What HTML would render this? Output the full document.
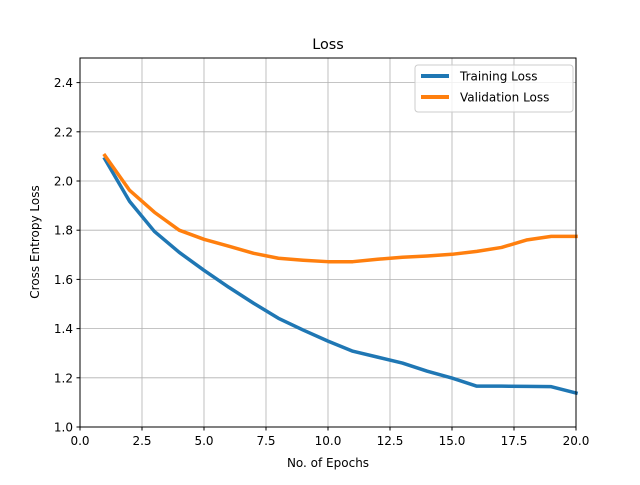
<!DOCTYPE html>
<html><head><meta charset="utf-8"><style>
body{margin:0;background:#fff;}
svg text{font-family:"DejaVu Sans","Liberation Sans",sans-serif;}
</style></head><body>
<svg id="chart" width="640" height="480" xmlns="http://www.w3.org/2000/svg">
<rect width="640" height="480" fill="#fff"/>
<g id="grid"></g>
<g id="series"></g>
<rect x="80" y="58" width="496" height="369" fill="none" stroke="#000" stroke-width="1"/>
<g id="ticks"></g>
<text x="328" y="49" font-size="14.4" text-anchor="middle">Loss</text>
<text x="328" y="467" font-size="12" text-anchor="middle">No. of Epochs</text>
<text transform="translate(39,242) rotate(-90)" font-size="12" text-anchor="middle">Cross Entropy Loss</text>
<g>
<rect x="415" y="65" width="158" height="47" rx="3" fill="#fff" fill-opacity="0.8" stroke="#ccc"/>
<g>
<line x1="421" y1="76" x2="449" y2="76" stroke="#1f77b4" stroke-width="4"/>
<text x="460" y="80.5" font-size="12">Training Loss</text></g>
<g>
<line x1="421" y1="97" x2="449" y2="97" stroke="#ff7f0e" stroke-width="4"/>
<text x="460" y="101.5" font-size="12">Validation Loss</text></g>
</g>
</svg>
<script>
const epochs=[1,2,3,4,5,6,7,8,9,10,11,12,13,14,15,16,17,18,19,20];
const trainingLoss=[2.09,1.917,1.795,1.71,1.637,1.568,1.503,1.442,1.394,1.349,1.308,1.284,1.26,1.227,1.199,1.166,1.166,1.165,1.164,1.138];
const validationLoss=[2.104,1.962,1.873,1.80,1.763,1.735,1.706,1.686,1.678,1.672,1.672,1.682,1.69,1.695,1.702,1.714,1.73,1.76,1.775,1.775];
const xTicks=[0,2.5,5,7.5,10,12.5,15,17.5,20];
const xTickLabels=["0.0","2.5","5.0","7.5","10.0","12.5","15.0","17.5","20.0"];
const yTicks=[1.0,1.2,1.4,1.6,1.8,2.0,2.2,2.4];
const yTickLabels=["1.0","1.2","1.4","1.6","1.8","2.0","2.2","2.4"];
const NS="http://www.w3.org/2000/svg";
const X=v=>80+(v-0)/20*496;
const Y=v=>427-(v-1.0)/1.5*369;
function mk(t,a,p){const e=document.createElementNS(NS,t);for(const k in a)e.setAttribute(k,a[k]);p.appendChild(e);return e;}
const grid=document.getElementById('grid'),ticks=document.getElementById('ticks'),series=document.getElementById('series');
xTicks.forEach((t,i)=>{
 const g=mk('line',{x1:X(t),x2:X(t),y1:58,y2:427,stroke:'#b0b0b0','stroke-width':0.8},grid);
 
 
 mk('line',{x1:X(t),x2:X(t),y1:427,y2:430.5,stroke:'#000'},ticks);
 const tx=mk('text',{x:X(t),y:445,'font-size':12,'text-anchor':'middle'},ticks);
 tx.textContent=xTickLabels[i];
 
 
});
yTicks.forEach((t,i)=>{
 const g=mk('line',{x1:80,x2:576,y1:Y(t),y2:Y(t),stroke:'#b0b0b0','stroke-width':0.8},grid);
 
 
 mk('line',{x1:76.5,x2:80,y1:Y(t),y2:Y(t),stroke:'#000'},ticks);
 const tx=mk('text',{x:73,y:Y(t)+4.5,'font-size':12,'text-anchor':'end'},ticks);
 tx.textContent=yTickLabels[i];
 
 
});
function line(vals,color,name){
 const p=mk('polyline',{points:epochs.map((e,i)=>X(e)+','+Y(vals[i])).join(' '),fill:'none',stroke:color,'stroke-width':3.5,'stroke-linejoin':'round','stroke-linecap':'square'},series);
 
 
}
line(trainingLoss,'#1f77b4','training-loss-line');
line(validationLoss,'#ff7f0e','validation-loss-line');
</script>
</body></html>
